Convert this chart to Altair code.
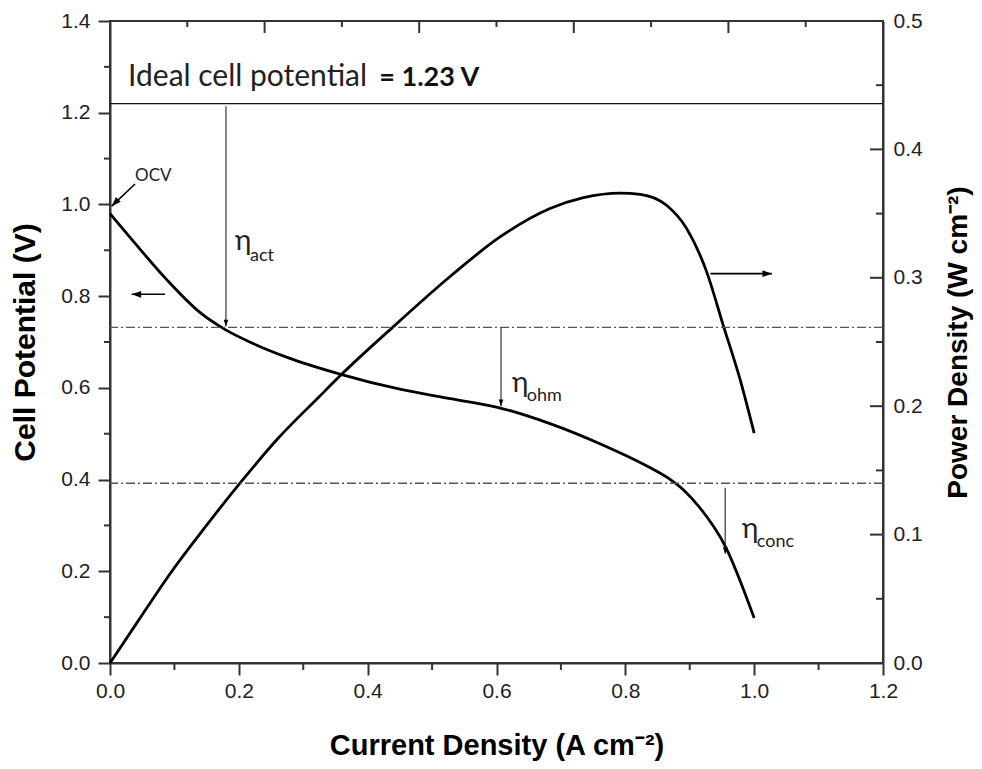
import altair as alt
import pandas as pd

# ---------------- data ----------------
pol_j = [0.000, 0.036, 0.088, 0.140, 0.179, 0.217, 0.274, 0.357, 0.450, 0.531,
         0.606, 0.683, 0.764, 0.841, 0.870, 0.890, 0.916, 0.955, 1.000]
pol_v = [0.980, 0.920, 0.836, 0.764, 0.727, 0.700, 0.667, 0.630, 0.597, 0.576,
         0.556, 0.522, 0.476, 0.424, 0.400, 0.378, 0.338, 0.255, 0.098]

pow_j = [0.000, 0.044, 0.096, 0.148, 0.205, 0.261, 0.324, 0.362, 0.440, 0.528,
         0.606, 0.683, 0.735, 0.792, 0.823, 0.864, 0.895, 0.926, 0.952, 0.978, 1.000]
pow_p = [0.000, 0.033, 0.0715, 0.106, 0.142, 0.175, 0.207, 0.226, 0.262, 0.301,
         0.332, 0.354, 0.3625, 0.366, 0.365, 0.3565, 0.3385, 0.305, 0.263, 0.221, 0.179]

x_major = [0.0, 0.2, 0.4, 0.6, 0.8, 1.0, 1.2]
x_minor = [0.1, 0.3, 0.5, 0.7, 0.9, 1.1]
top_major = [0.24, 0.48, 0.72, 0.96]
top_minor = [0.12, 0.36, 0.60, 0.84, 1.08]
yl_major = [0.0, 0.2, 0.4, 0.6, 0.8, 1.0, 1.2, 1.4]
yl_minor = [0.1, 0.3, 0.5, 0.7, 0.9, 1.1, 1.3]
yr_major = [0.0, 0.1, 0.2, 0.3, 0.4, 0.5]
yr_minor = [0.05, 0.15, 0.25, 0.35, 0.45]

ideal_v = [1.22]
dashdot_v = [0.732, 0.392]

# vertical overpotential arrows
varr_x = [0.180, 0.607, 0.955]
varr_top = [1.214, 0.731, 0.382]
varr_bot = [0.734, 0.560, 0.238]

# other arrows: start -> end (head at end)
arr_x1 = [0.0854, 0.932, 0.0388]
arr_y1 = [0.804, 0.849, 1.0445]
arr_x2 = [0.0337, 1.0275, 0.0026]
arr_y2 = [0.804, 0.849, 0.9963]
arr_ang = [90, 270, 45]

eta_x = [0.194, 0.624, 0.981]
eta_y = [0.900, 0.592, 0.273]
sub_x = [0.2174, 0.647, 1.004]
sub_y = [0.876, 0.571, 0.252]
sub_lab = ["act", "ohm", "conc"]

# ---------------- layout ----------------
W, H = 773, 642
FONT = "Liberation Sans"
TFONT = "Lato"
INK = "#222222"
AX = "#333333"

xs = alt.Scale(domain=[0, 1.2], nice=False, zero=False)
yls = alt.Scale(domain=[0, 1.4], nice=False, zero=False)
yrs = alt.Scale(domain=[0, 0.5], nice=False, zero=False)

x_axis = alt.Axis(values=x_major, format=".1f", title="Current Density (A cm⁻²)", orient="bottom",
                  tickSize=12, tickWidth=2, tickColor=AX, domainColor=AX, domainWidth=2,
                  labelPadding=5, labelFont=FONT, labelFontSize=21, labelColor=INK,
                  labelFlush=False, grid=False,
                  titleFont=FONT, titleFontSize=29, titleFontWeight="bold", titleColor="#000",
                  titleX=W / 2, titleY=82, titleAlign="center", titleBaseline="middle")
yl_axis = alt.Axis(values=yl_major, format=".1f", title="Cell Potential (V)", orient="left",
                   tickSize=12, tickWidth=2, tickColor=AX, domainColor=AX, domainWidth=2,
                   labelPadding=8, labelFont=FONT, labelFontSize=21, labelColor=INK,
                   labelFlush=False, grid=False,
                   titleFont=FONT, titleFontSize=30, titleFontWeight="bold", titleColor="#000",
                   titleX=-85, titleY=H / 2, titleAngle=270, titleAlign="center", titleBaseline="middle")
yr_axis = alt.Axis(values=yr_major, format=".1f", title="Power Density (W cm⁻²)", orient="right",
                   ticks=False, domainColor=AX, domainWidth=2,
                   labelPadding=10, labelFont=FONT, labelFontSize=21, labelColor=INK,
                   labelFlush=False, grid=False,
                   titleFont=FONT, titleFontSize=28, titleFontWeight="bold", titleColor="#000",
                   titleX=75, titleY=H / 2, titleAngle=270, titleAlign="center", titleBaseline="middle")

# x is shared by every layer: give each the same axis so the shared axis merges cleanly
def X(f):
    return alt.X(f, type="quantitative", scale=xs, axis=x_axis)

def YLN(f):
    return alt.Y(f, type="quantitative", scale=yls, axis=None)

def YRN(f):
    return alt.Y(f, type="quantitative", scale=yrs, axis=None)

# ---------------- cell potential marks (left scale) ----------------
pol_df = pd.DataFrame({"j": pol_j, "v": pol_v})
pol_line = alt.Chart(pol_df).mark_line(color="#000", strokeWidth=2.8, interpolate="monotone").encode(
    x=X("j"),
    y=alt.Y("v:Q", scale=yls, axis=yl_axis),
)

ideal_rule = alt.Chart(pd.DataFrame({"v": ideal_v})).mark_rule(color="#111", strokeWidth=1.3).encode(
    y=YLN("v"))
dd_rule = alt.Chart(pd.DataFrame({"v": dashdot_v})).mark_rule(
    color="#555", strokeWidth=1.4, strokeDash=[9, 3, 2, 3]).encode(y=YLN("v"))

varr_df = pd.DataFrame({"x": varr_x, "y1": varr_top, "y2": varr_bot, "a": [0, 0, 0]})
varr_shaft = alt.Chart(varr_df).mark_rule(color="#222", strokeWidth=1.1).encode(
    x=X("x"), y=YLN("y1"), y2="y2:Q")
varr_head = alt.Chart(varr_df).mark_point(
    shape="M0,0 L-0.75,-2.2 L0.75,-2.2 Z", filled=True, color="#000", opacity=1, size=36, strokeWidth=0
).encode(x=X("x"), y=YLN("y2"), angle=alt.Angle("a:Q", scale=None))

arr_df = pd.DataFrame({"x1": arr_x1, "y1": arr_y1, "x2": arr_x2, "y2": arr_y2, "a": arr_ang})
arr_shaft = alt.Chart(arr_df).mark_rule(color="#000", strokeWidth=1.6).encode(
    x=X("x1"), y=YLN("y1"), x2="x2:Q", y2="y2:Q")
arr_head = alt.Chart(arr_df).mark_point(
    shape="M0,0 L-0.75,-2.1 L0.75,-2.1 Z", filled=True, color="#000", opacity=1, size=80, strokeWidth=0
).encode(x=X("x2"), y=YLN("y2"), angle=alt.Angle("a:Q", scale=None))

ideal_txt = alt.Chart(pd.DataFrame({"x": [0.028], "y": [1.2575], "t": ["Ideal cell potential"]})).mark_text(
    font=TFONT, fontSize=30, align="left", baseline="alphabetic", color=INK).encode(
    x=X("x"), y=YLN("y"), text="t:N")
ideal_bold = alt.Chart(pd.DataFrame({"x": [0.418], "y": [1.2575], "t": ["= 1.23 V"]})).mark_text(
    font=TFONT, fontSize=27, fontWeight="bold", align="left", baseline="alphabetic", color="#111").encode(
    x=X("x"), y=YLN("y"), text="t:N")
ocv_txt = alt.Chart(pd.DataFrame({"x": [0.039], "y": [1.051], "t": ["OCV"]})).mark_text(
    font=TFONT, fontSize=17, align="left", baseline="alphabetic", color=INK).encode(
    x=X("x"), y=YLN("y"), text="t:N")
eta_txt = alt.Chart(pd.DataFrame({"x": eta_x, "y": eta_y, "t": ["η"] * 3})).mark_text(
    font=TFONT, fontSize=28, align="left", baseline="alphabetic", color=INK).encode(
    x=X("x"), y=YLN("y"), text="t:N")
sub_txt = alt.Chart(pd.DataFrame({"x": sub_x, "y": sub_y, "t": sub_lab})).mark_text(
    font=TFONT, fontSize=18, align="left", baseline="alphabetic", color=INK).encode(
    x=X("x"), y=YLN("y"), text="t:N")

# minor / inward ticks
tick_style = dict(color=AX, strokeWidth=2)
left_minor = alt.Chart(pd.DataFrame({"v": yl_minor})).mark_rule(**tick_style).encode(
    y=YLN("v"), x=alt.value(-6), x2=alt.value(0))
bot_minor = alt.Chart(pd.DataFrame({"v": x_minor})).mark_rule(**tick_style).encode(
    x=X("v"), y=alt.value(H), y2=alt.value(H + 7))
top_maj = alt.Chart(pd.DataFrame({"v": top_major})).mark_rule(**tick_style).encode(
    x=X("v"), y=alt.value(0), y2=alt.value(12))
top_min = alt.Chart(pd.DataFrame({"v": top_minor})).mark_rule(**tick_style).encode(
    x=X("v"), y=alt.value(0), y2=alt.value(6))

# ---------------- power density marks (right scale) ----------------
pow_df = pd.DataFrame({"j": pow_j, "p": pow_p})
pow_line = alt.Chart(pow_df).mark_line(color="#000", strokeWidth=2.8, interpolate="monotone").encode(
    x=X("j"),
    y=alt.Y("p:Q", scale=yrs, axis=yr_axis),
)
right_maj = alt.Chart(pd.DataFrame({"v": yr_major})).mark_rule(**tick_style).encode(
    y=YRN("v"), x=alt.value(W - 13), x2=alt.value(W))
right_min = alt.Chart(pd.DataFrame({"v": yr_minor})).mark_rule(**tick_style).encode(
    y=YRN("v"), x=alt.value(W - 7), x2=alt.value(W))

# every y scale has an explicit domain, so independent y scales map identically;
# independence lets the power curve carry its own right-hand axis.
chart = alt.layer(
    pol_line, pow_line, ideal_rule, dd_rule, varr_shaft, varr_head, arr_shaft, arr_head,
    ideal_txt, ideal_bold, ocv_txt, eta_txt, sub_txt,
    left_minor, bot_minor, top_maj, top_min, right_maj, right_min,
).resolve_scale(y="independent").properties(
    width=W, height=H,
    autosize=alt.AutoSizeParams(type="none"),
    padding={"left": 102, "top": 13, "right": 91, "bottom": 98},
    background="white",
).configure_view(stroke=AX, strokeWidth=2)

chart.save("out.html", embed_options={"renderer": "svg", "actions": False})
